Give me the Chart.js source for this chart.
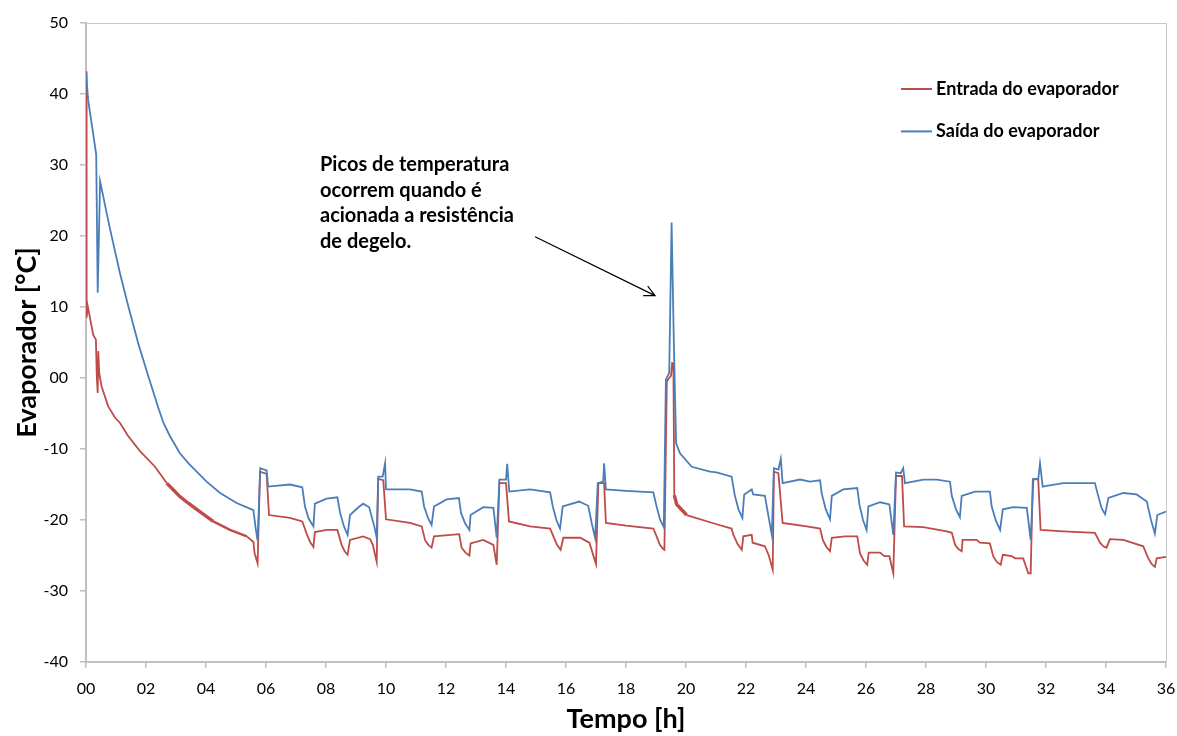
<!DOCTYPE html>
<html>
<head>
<meta charset="utf-8">
<script src="https://cdn.jsdelivr.net/npm/chart.js@4.4.1/dist/chart.umd.min.js"></script>
<style>
  html, body { margin: 0; padding: 0; background: #ffffff; }
  canvas { display: block; }
</style>
</head>
<body>
<canvas id="grafico" width="1177" height="736"></canvas>
<script>
// Temperatura na entrada do evaporador: tempo [h] e temperatura [°C]
const entradaTempo = [
  0.00, 0.01, 0.03, 0.06, 0.24, 0.33, 0.36, 0.39, 0.41, 0.44, 0.52, 0.74, 0.97, 1.13, 1.41, 1.80, 2.30, 2.69,
  2.90, 3.13, 3.40, 3.69, 4.24, 4.80, 5.36,
  5.58, 5.62, 5.72, 5.80, 6.02, 6.10, 6.80, 7.21, 7.36, 7.47, 7.58, 7.63, 8.02, 8.38, 8.52, 8.62, 8.72, 8.80,
  9.24, 9.47, 9.56, 9.69, 9.74, 9.91, 10.00, 10.80, 11.19, 11.30, 11.41, 11.52, 11.60, 12.44, 12.52, 12.65, 12.78, 12.82,
  13.24, 13.58, 13.69, 13.78, 14.00, 14.10, 14.80, 15.47, 15.58, 15.70, 15.82, 15.91, 16.47, 16.78, 17.00, 17.08,
  17.27, 17.33, 18.00, 18.91, 19.02, 19.13, 19.24, 19.28, 19.36, 19.44, 19.50, 19.54, 19.58, 19.61, 19.69, 20.02,
  21.02, 21.52, 21.58, 21.72, 21.86, 21.91, 22.19, 22.22, 22.63, 22.76, 22.89, 22.93, 23.08, 23.22, 24.02, 24.47, 24.56,
  24.68, 24.80, 24.86, 25.30, 25.71, 25.80, 25.92, 26.04, 26.09, 26.47, 26.61, 26.78, 26.91, 27.00, 27.20, 27.27, 27.91,
  28.69, 28.86, 28.97, 29.08, 29.19, 29.22, 29.69, 29.80, 30.13, 30.24, 30.36, 30.49, 30.56, 30.86, 30.97, 31.24, 31.41,
  31.49, 31.56, 31.74, 31.82, 32.58, 33.63, 33.80, 33.91, 34.02, 34.13, 34.58, 34.86, 35.24, 35.41, 35.52, 35.63, 35.69, 36.00
];
const entradaTemp = [
  43.2, 11.5, 8.5, 10.1, 6.1, 5.4, 0.2, -2.1, 3.8, 0.7, -1.2, -4.0, -5.6, -6.3, -8.2, -10.3, -12.5, -14.8,
  -15.7, -16.7, -17.6, -18.5, -20.2, -21.4, -22.3,
  -23.1, -24.7, -26.1, -13.2, -13.5, -19.3, -19.7, -20.2, -22.0, -23.1, -23.8, -21.7, -21.4, -21.4, -23.5, -24.4, -24.9, -22.8,
  -22.3, -22.7, -23.5, -25.9, -14.2, -14.4, -19.9, -20.4, -20.9, -22.8, -23.5, -23.9, -22.3, -22.0, -23.9, -24.6, -25.0, -23.3,
  -22.8, -23.5, -26.3, -14.8, -14.8, -20.2, -20.9, -21.2, -22.3, -23.5, -24.2, -22.5, -22.5, -23.2, -26.2, -14.8,
  -14.8, -20.4, -20.8, -21.2, -22.3, -23.5, -24.1, -24.2, -0.5, 0.0, 0.3, 2.1, 2.0, -16.5, -17.8, -19.3,
  -20.6, -21.2, -22.1, -23.4, -24.2, -22.3, -22.1, -23.2, -23.7, -25.0, -27.0, -13.2, -13.4, -20.4, -20.9, -21.2, -22.8,
  -23.8, -24.4, -22.5, -22.3, -22.3, -24.7, -25.7, -26.3, -24.6, -24.6, -25.1, -25.1, -27.5, -13.8, -13.8, -20.9, -21.0,
  -21.6, -21.8, -23.5, -24.1, -24.4, -22.8, -22.8, -23.2, -23.3, -25.1, -25.9, -26.3, -24.9, -25.1, -25.4, -25.4, -27.5,
  -27.5, -14.3, -14.2, -21.4, -21.6, -21.8, -23.2, -23.7, -23.9, -22.7, -22.8, -23.2, -23.7, -25.4, -26.2, -26.6, -25.4, -25.2
];

// Temperatura na saída do evaporador: tempo [h] e temperatura [°C]
const saidaTempo = [
  0.00, 0.07, 0.34, 0.39, 0.47, 0.80, 1.13, 1.41, 1.74, 2.08, 2.41, 2.58, 2.80, 3.13, 3.41, 3.69, 4.02, 4.47, 5.02, 5.52, 5.58, 5.65, 5.72,
  5.81, 6.02, 6.07, 6.80, 7.21, 7.30, 7.42, 7.58, 7.63, 8.02, 8.38, 8.47, 8.60, 8.72, 8.80, 9.08, 9.24, 9.44, 9.61, 9.69,
  9.74, 9.89, 9.97, 10.00, 10.80, 11.19, 11.27, 11.40, 11.52, 11.60, 12.02, 12.43, 12.50, 12.64, 12.78, 12.82, 13.24, 13.58,
  13.69, 13.78, 14.00, 14.04, 14.11, 14.80, 15.47, 15.56, 15.68, 15.80, 15.89, 16.44, 16.74, 16.86, 16.97, 17.06, 17.24,
  17.27, 17.33, 18.00, 18.91, 19.02, 19.14, 19.26, 19.33, 19.44, 19.52, 19.60, 19.67, 19.80, 20.19, 20.80, 21.02,
  21.52, 21.63, 21.75, 21.88, 21.94, 22.19, 22.24, 22.63, 22.75, 22.86, 22.93, 23.08, 23.16, 23.22, 23.80, 24.13, 24.47,
  24.52, 24.66, 24.80, 24.86, 25.24, 25.71, 25.78, 25.90, 26.02, 26.08, 26.47, 26.78, 26.91, 27.00, 27.16, 27.24, 27.30,
  27.91, 28.36, 28.80, 28.86, 29.00, 29.13, 29.19, 29.63, 30.13, 30.19, 30.33, 30.47, 30.56, 30.91, 31.36, 31.49, 31.58,
  31.74, 31.80, 31.89, 32.02, 32.58, 33.63, 33.74, 33.85, 33.97, 34.08, 34.58, 35.02, 35.36, 35.50, 35.63, 35.71, 36.00
];
const saidaTemp = [
  43.0, 39.2, 31.5, 12.0, 27.7, 21.0, 14.8, 10.1, 4.9, 0.2, -4.2, -6.3, -8.2, -10.6, -12.0, -13.2, -14.6, -16.2, -17.6, -18.5, -18.6, -21.0, -22.9,
  -12.7, -13.0, -15.3, -15.0, -15.4, -18.1, -19.8, -20.9, -17.7, -17.0, -16.8, -19.0, -20.9, -22.1, -19.3, -18.2, -17.7, -18.2, -20.9, -22.5,
  -13.9, -13.9, -12.0, -15.7, -15.7, -16.0, -18.1, -19.7, -20.7, -18.1, -17.1, -16.9, -19.0, -20.5, -21.4, -19.3, -18.2, -18.3,
  -22.5, -14.3, -14.3, -12.1, -16.0, -15.7, -16.1, -18.1, -20.0, -21.2, -18.1, -17.4, -18.0, -20.5, -22.5, -14.8, -14.6,
  -12.0, -15.7, -15.9, -16.1, -18.1, -20.0, -21.0, -0.2, 0.7, 21.9, 3.9, -9.2, -10.6, -12.5, -13.2, -13.3,
  -13.9, -16.6, -18.5, -19.7, -16.4, -15.7, -16.4, -16.6, -19.5, -22.1, -12.7, -12.9, -11.4, -14.8, -14.3, -14.6, -14.4,
  -16.2, -18.5, -19.9, -16.6, -15.7, -15.5, -17.8, -20.0, -21.4, -18.1, -17.5, -17.8, -22.1, -13.3, -13.4, -12.7, -14.8,
  -14.3, -14.3, -14.6, -16.6, -18.5, -19.6, -16.6, -16.0, -16.0, -18.1, -20.1, -21.4, -18.5, -18.2, -18.3, -22.8, -14.2,
  -14.3, -12.0, -15.3, -15.2, -14.8, -14.8, -16.6, -18.3, -19.2, -16.9, -16.2, -16.4, -17.4, -20.0, -21.9, -19.3, -18.8
];

const nomesSeries = ['Entrada do evaporador', 'Saída do evaporador'];
const coresSeries = ['#BE4B48', '#4A7EBB'];

// Trechos em que o sinal da entrada oscila rápido (traço mais grosso): [início, fim, espessura]
const entradaTrechosRuidosos = [[2.65, 3.70, 3.4], [3.70, 5.30, 2.4], [19.61, 19.72, 3.4]];

// Eixos
const xTicks = [0, 2, 4, 6, 8, 10, 12, 14, 16, 18, 20, 22, 24, 26, 28, 30, 32, 34, 36];
const xTickLabels = ['00', '02', '04', '06', '08', '10', '12', '14', '16', '18', '20', '22', '24', '26', '28', '30', '32', '34', '36'];
const yTicks = [-40, -30, -20, -10, 0, 10, 20, 30, 40, 50];
const yTickLabels = ['-40', '-30', '-20', '-10', '00', '10', '20', '30', '40', '50'];

// Nota explicativa com seta
const notaLinhas = ['Picos de temperatura', 'ocorrem quando é', 'acionada a resistência', 'de degelo.'];
const notaPosicao = [7.8, 29.1];      // canto do texto [h, °C]
const setaInicio = [14.97, 19.9];     // [h, °C]
const setaFim = [18.97, 11.6];        // [h, °C]

const FONTE = 'Lato, "Open Sans", "DejaVu Sans", sans-serif';
const CINZA_EIXO = '#BFBFBF';
const LARGURA_LINHA = 1.8;

function pares(xs, ys) {
  return xs.map((x, i) => ({ x: x, y: ys[i] }));
}

function larguraEntrada(c) {
  const x = c.p0.parsed.x;
  for (const [ini, fim, w] of entradaTrechosRuidosos) {
    if (x >= ini && x < fim) return w;
  }
  return LARGURA_LINHA;
}

// Moldura superior e direita da área do gráfico
const moldura = {
  id: 'moldura',
  beforeDatasetsDraw(chart) {
    const a = chart.chartArea;
    const ctx = chart.ctx;
    ctx.save();
    ctx.strokeStyle = '#C8C8C8';
    ctx.lineWidth = 1;
    ctx.beginPath();
    ctx.moveTo(a.left, a.top + 0.5);
    ctx.lineTo(a.right + 0.5, a.top + 0.5);
    ctx.lineTo(a.right + 0.5, a.bottom);
    ctx.stroke();
    ctx.restore();
  }
};

// Legenda no canto superior direito
const legenda = {
  id: 'legendaCustom',
  afterDraw(chart) {
    const ctx = chart.ctx;
    const a = chart.chartArea;
    const x0 = a.right - 265;
    const yBase = a.top + 66;
    ctx.save();
    ctx.font = 'bold 18px ' + FONTE;
    ctx.textBaseline = 'alphabetic';
    ctx.textAlign = 'left';
    nomesSeries.forEach((nome, i) => {
      const y = yBase + i * 42.4;
      ctx.strokeStyle = coresSeries[i];
      ctx.lineWidth = 2;
      ctx.beginPath();
      ctx.moveTo(x0, y);
      ctx.lineTo(x0 + 31, y);
      ctx.stroke();
      ctx.fillStyle = '#000000';
      ctx.fillText(nome, x0 + 35, y + 6);
    });
    ctx.restore();
  }
};

// Texto da nota e seta apontando o pico
const nota = {
  id: 'notaPico',
  afterDraw(chart) {
    const ctx = chart.ctx;
    const sx = chart.scales.x, sy = chart.scales.y;
    ctx.save();
    ctx.font = 'bold 20px ' + FONTE;
    ctx.fillStyle = '#000000';
    ctx.textAlign = 'left';
    ctx.textBaseline = 'alphabetic';
    const tx = sx.getPixelForValue(notaPosicao[0]);
    const ty = sy.getPixelForValue(notaPosicao[1]);
    notaLinhas.forEach((linha, i) => ctx.fillText(linha, tx, ty + i * 25.4));

    const x1 = sx.getPixelForValue(setaInicio[0]), y1 = sy.getPixelForValue(setaInicio[1]);
    const x2 = sx.getPixelForValue(setaFim[0]), y2 = sy.getPixelForValue(setaFim[1]);
    ctx.strokeStyle = '#000000';
    ctx.lineWidth = 1.2;
    ctx.beginPath();
    ctx.moveTo(x1, y1);
    ctx.lineTo(x2, y2);
    const ang = Math.atan2(y2 - y1, x2 - x1);
    const L = 12, abre = 0.45;
    ctx.moveTo(x2 - L * Math.cos(ang - abre), y2 - L * Math.sin(ang - abre));
    ctx.lineTo(x2, y2);
    ctx.lineTo(x2 - L * Math.cos(ang + abre), y2 - L * Math.sin(ang + abre));
    ctx.stroke();
    ctx.restore();
  }
};

new Chart(document.getElementById('grafico'), {
  type: 'line',
  data: {
    datasets: [
      {
        label: nomesSeries[0],
        data: pares(entradaTempo, entradaTemp),
        borderColor: coresSeries[0],
        borderWidth: LARGURA_LINHA,
        segment: { borderWidth: larguraEntrada },
        pointRadius: 0,
        tension: 0,
        order: 1
      },
      {
        label: nomesSeries[1],
        data: pares(saidaTempo, saidaTemp),
        borderColor: coresSeries[1],
        borderWidth: LARGURA_LINHA,
        pointRadius: 0,
        tension: 0,
        order: 0
      }
    ]
  },
  options: {
    responsive: false,
    devicePixelRatio: 1,
    animation: false,
    events: [],
    layout: { padding: { top: 23, right: 11, left: 0, bottom: 0 } },
    plugins: {
      legend: { display: false },
      tooltip: { enabled: false }
    },
    scales: {
      x: {
        type: 'linear',
        min: 0,
        max: 36,
        afterFit(scale) {
          scale.height = 74;
          scale.paddingLeft = 0;
          scale.paddingRight = 0;
        },
        afterBuildTicks(scale) { scale.ticks = xTicks.map(v => ({ value: v })); },
        ticks: {
          autoSkip: false,
          maxRotation: 0,
          padding: 11,
          color: '#000000',
          font: { family: FONTE, size: 16 },
          callback: (v) => xTickLabels[xTicks.indexOf(v)]
        },
        grid: { drawOnChartArea: false, tickLength: 6, color: CINZA_EIXO, lineWidth: 1.5 },
        border: { display: true, color: CINZA_EIXO, width: 2 },
        title: {
          display: true,
          text: 'Tempo [h]',
          color: '#000000',
          font: { family: FONTE, size: 27, weight: 'bold' },
          padding: { top: 0, bottom: 1 }
        }
      },
      y: {
        type: 'linear',
        min: -40,
        max: 50,
        afterFit(scale) {
          scale.width = 86;
          scale.paddingTop = 0;
          scale.paddingBottom = 0;
        },
        afterBuildTicks(scale) { scale.ticks = yTicks.map(v => ({ value: v })); },
        ticks: {
          padding: 12,
          color: '#000000',
          font: { family: FONTE, size: 16 },
          callback: (v) => yTickLabels[yTicks.indexOf(v)]
        },
        grid: { drawOnChartArea: false, tickLength: 6, color: CINZA_EIXO, lineWidth: 1.5 },
        border: { display: true, color: CINZA_EIXO, width: 2 },
        title: {
          display: true,
          text: 'Evaporador [°C]',
          color: '#000000',
          font: { family: FONTE, size: 27, weight: 'bold' },
          padding: { top: 11, bottom: 0 }
        }
      }
    }
  },
  plugins: [moldura, legenda, nota]
});
</script>
</body>
</html>
